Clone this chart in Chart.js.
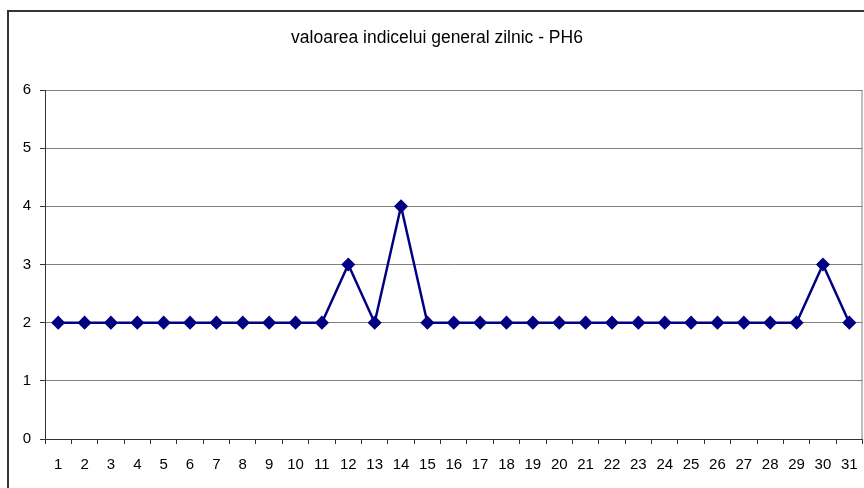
<!DOCTYPE html>
<html lang="ro">
<head>
    <meta charset="UTF-8">
    <title>valoarea indicelui general zilnic - PH6</title>
    <script src="https://cdn.jsdelivr.net/npm/chart.js"></script>
    <style>
        body {
            margin: 0;
            background-color: #fff;
            font-family: Arial, "Liberation Sans", sans-serif;
        }

        #wrap {
            position: relative;
            width: 864px;
            height: 488px;
            overflow: hidden;
        }

        #frame {
            position: absolute;
            left: 7px;
            top: 10px;
            width: 900px;
            height: 500px;
            border-left: 2px solid #333;
            border-top: 2px solid #333;
            pointer-events: none;
        }

        canvas {
            position: absolute;
            left: 0;
            top: 0;
        }
    </style>
</head>
<body>
    <div id="wrap">
        <!-- putin mai lata decat fereastra: marginea dreapta a graficului iese din cadru -->
        <canvas id="phChart" width="870" height="488"></canvas>
        <div id="frame"></div>
    </div>

    <script>
        var zile = ['1', '2', '3', '4', '5', '6', '7', '8', '9', '10', '11', '12', '13', '14', '15', '16',
            '17', '18', '19', '20', '21', '22', '23', '24', '25', '26', '27', '28', '29', '30', '31'];
        var valori = [2, 2, 2, 2, 2, 2, 2, 2, 2, 2, 2, 3, 2, 4, 2, 2,
            2, 2, 2, 2, 2, 2, 2, 2, 2, 2, 2, 2, 2, 3, 2];
        var titlu = 'valoarea indicelui general zilnic - PH6';

        // linia gri din dreapta zonei de desen
        var chenar = {
            id: 'chenar',
            beforeDatasetsDraw: function (chart) {
                var a = chart.chartArea;
                var ctx = chart.ctx;
                ctx.save();
                ctx.strokeStyle = '#808080';
                ctx.lineWidth = 1;
                ctx.beginPath();
                ctx.moveTo(a.right - 0.5, a.top);
                ctx.lineTo(a.right - 0.5, a.bottom);
                ctx.stroke();
                ctx.restore();
            }
        };

        Chart.defaults.font.family = 'Arial, "Liberation Sans", sans-serif';
        Chart.defaults.color = '#000';

        var ctx = document.getElementById('phChart').getContext('2d');
        var phChart = new Chart(ctx, {
            type: 'line',
            data: {
                labels: zile,
                datasets: [{
                    data: valori,
                    borderColor: '#000080',
                    backgroundColor: '#000080',
                    borderWidth: 2.5,
                    pointStyle: 'rectRot',
                    pointRadius: 6,
                    pointBorderWidth: 1.5,
                    tension: 0
                }]
            },
            options: {
                responsive: false,
                animation: false,
                layout: {
                    padding: { left: 6, right: 2, top: 0, bottom: 0 }
                },
                plugins: {
                    legend: { display: false },
                    tooltip: { enabled: false },
                    title: {
                        display: true,
                        text: titlu,
                        color: '#000',
                        font: { size: 17.5, weight: 'normal' },
                        padding: { top: 27.5, bottom: 41.5 }
                    }
                },
                scales: {
                    x: {
                        offset: true,
                        grid: {
                            offset: true,
                            drawOnChartArea: false,
                            tickLength: 5,
                            tickColor: '#333'
                        },
                        border: { color: '#333', width: 1 },
                        ticks: {
                            font: { size: 15 },
                            padding: 12,
                            maxRotation: 0,
                            autoSkip: false
                        },
                        afterFit: function (scale) { scale.height = 49; }
                    },
                    y: {
                        min: 0,
                        max: 6,
                        ticks: {
                            stepSize: 1,
                            font: { size: 15 },
                            padding: 9
                        },
                        grid: {
                            color: '#808080',
                            tickLength: 5,
                            tickColor: '#333'
                        },
                        border: { color: '#333', width: 1 },
                        afterFit: function (scale) { scale.width = 39; }
                    }
                }
            },
            plugins: [chenar]
        });
    </script>
</body>
</html>
